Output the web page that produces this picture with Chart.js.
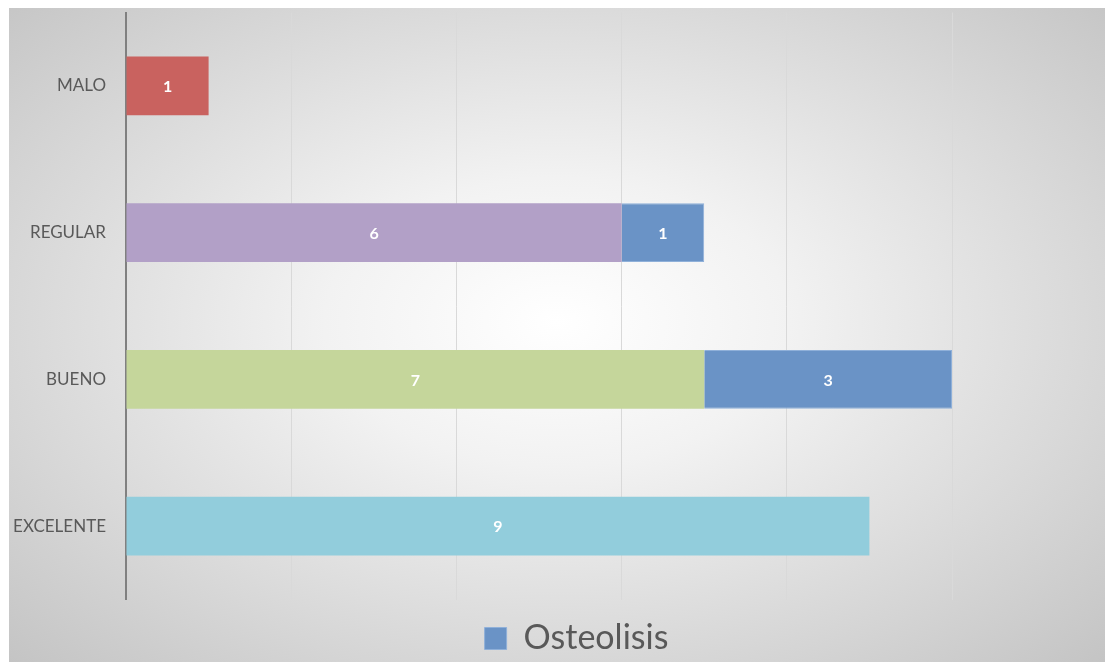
<!DOCTYPE html>
<html>
<head>
<meta charset="utf-8">
<script src="https://cdn.jsdelivr.net/npm/chart.js@4/dist/chart.umd.min.js"></script>
<style>
  html, body { margin: 0; padding: 0; background: #ffffff; }
  #wrap {
    position: absolute; left: 9px; top: 8px; width: 1096px; height: 654px;
    background: radial-gradient(ellipse farthest-corner at 50% 48%, #ffffff 0%, #f2f2f2 30%, #c4c4c4 100%);
  }
  canvas { display: block; }
</style>
</head>
<body>
<div id="wrap"><canvas id="c" width="1096" height="654"></canvas></div>
<script>
const categories = ['MALO', 'REGULAR', 'BUENO', 'EXCELENTE'];
const baseValues = [1, 6, 7, 9];
const baseColors = ['#c9625f', '#b2a0c7', '#c5d69b', '#92cddc'];
const osteolisisValues = [null, 1, 3, null];
const osteolisisLabel = 'Osteolisis';
const osteolisisColor = '#6a93c6';
const xTicks = [0, 2, 4, 6, 8, 10];

const valueLabels = {
  id: 'valueLabels',
  afterDatasetsDraw(chart) {
    const ctx = chart.ctx;
    ctx.save();
    ctx.fillStyle = '#ffffff';
    ctx.font = 'bold 16px Lato, "Open Sans", sans-serif';
    ctx.textAlign = 'center';
    ctx.textBaseline = 'middle';
    chart.data.datasets.forEach((ds, di) => {
      const meta = chart.getDatasetMeta(di);
      meta.data.forEach((el, i) => {
        const v = ds.data[i];
        if (v === null || v === undefined) return;
        const p = el.getCenterPoint();
        ctx.fillText(String(v), p.x, p.y + 1);
      });
    });
    ctx.restore();
  }
};

new Chart(document.getElementById('c'), {
  type: 'bar',
  data: {
    labels: categories,
    datasets: [
      {
        label: 'Total',
        data: baseValues,
        backgroundColor: baseColors,
        borderWidth: 0,
        categoryPercentage: 1,
        barPercentage: 0.4
      },
      {
        label: osteolisisLabel,
        data: osteolisisValues,
        backgroundColor: osteolisisColor,
        borderColor: '#8fb0d9',
        borderWidth: 1,
        categoryPercentage: 1,
        barPercentage: 0.4
      }
    ]
  },
  options: {
    indexAxis: 'y',
    responsive: false,
    animation: false,
    layout: { padding: { left: 0, right: -39, top: 4.5, bottom: -3.5 } },
    scales: {
      x: {
        stacked: true,
        min: 0,
        max: 10,
        afterBuildTicks(scale) { scale.ticks = xTicks.map(v => ({ value: v })); },
        ticks: { display: false },
        grid: { color: '#d9d9d9', lineWidth: 1, drawTicks: false },
        border: { display: false },
        afterFit(scale) { scale.height = 0; scale.paddingLeft = 0; scale.paddingRight = 0; }
      },
      y: {
        stacked: true,
        grid: { display: false, drawTicks: false },
        border: { display: true, color: '#808080', width: 2 },
        ticks: {
          color: '#595959',
          font: { family: 'Lato, "Open Sans", sans-serif', size: 17 },
          padding: 20
        },
        afterFit(scale) { scale.width = 117; scale.paddingTop = 0; scale.paddingBottom = 0; }
      },
      yRight: {
        type: 'category',
        position: 'right',
        display: true,
        grid: { display: false, drawTicks: false },
        border: { display: false },
        ticks: { display: false },
        afterFit(scale) { scale.width = 192; scale.paddingTop = 0; scale.paddingBottom = 0; }
      }
    },
    plugins: {
      legend: {
        position: 'bottom',
        labels: {
          filter: (item) => item.datasetIndex === 1,
          color: '#595959',
          font: { family: 'Lato, "Open Sans", sans-serif', size: 34 },
          boxWidth: 22,
          boxHeight: 22,
          padding: 22
        }
      },
      tooltip: { enabled: false }
    }
  },
  plugins: [valueLabels]
});
</script>
</body>
</html>
